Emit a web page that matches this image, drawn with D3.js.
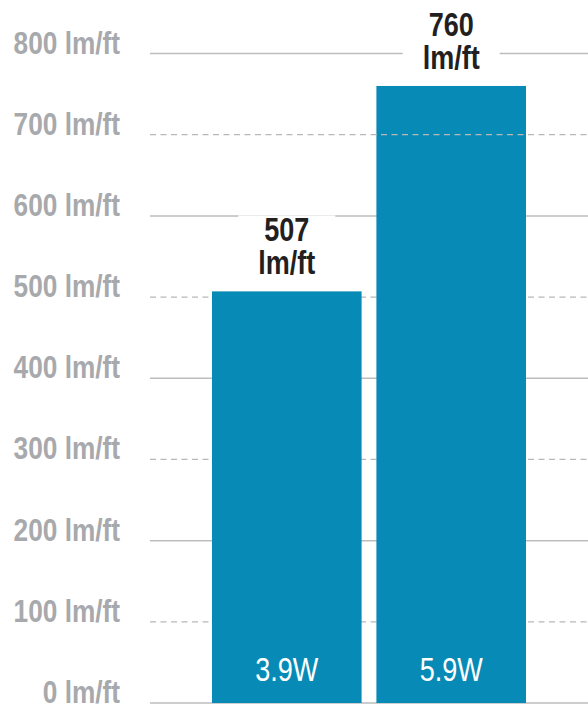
<!DOCTYPE html>
<html>
<head>
<meta charset="utf-8">
<script src="https://cdn.jsdelivr.net/npm/d3@7"></script>
<style>
  body { margin: 0; background: #fff; }
  text { font-family: "Liberation Sans Narrow", "Arial Narrow", "Liberation Sans", Arial, sans-serif; }
</style>
</head>
<body>
<div id="chart"></div>
<script>
// data
const categories = ["3.9W", "5.9W"];
const values = [507, 760];
const ticks = [0, 100, 200, 300, 400, 500, 600, 700, 800];
const unit = "lm/ft";

const width = 588, height = 706;
const narrow = 0.82; // no narrow font installed, squeeze the regular one

const svg = d3
  .select("#chart")
  .append("svg")
  .attr("width", width)
  .attr("height", height);

const y = d3.scaleLinear().domain([0, 800]).range([703, 53.5]);
const x = d3.scaleBand().domain(categories).range([212, 526]).paddingInner(0.09).paddingOuter(0);

function gridLines(g, data, dashed) {
  g.selectAll("line")
    .data(data)
    .join("line")
    .attr("x1", 150)
    .attr("x2", width)
    .attr("y1", d => y(d))
    .attr("y2", d => y(d))
    .attr("stroke", dashed ? "#b8b8b8" : "#bdbdbd")
    .attr("stroke-width", dashed ? 1.3 : 1.5)
    .attr("stroke-dasharray", dashed ? "6,4.5" : null);
}

// gridlines: solid every 200, dashed between
gridLines(svg.append("g"), ticks.filter(d => d % 200 === 0), false);
gridLines(svg.append("g"), ticks.filter(d => d % 200 !== 0 && d !== 700), true);

// y labels
svg
  .append("g")
  .selectAll("text")
  .data(ticks)
  .join("text")
  .attr("transform", d => `translate(120,${y(d)}) scale(${narrow},1)`)
  .attr("text-anchor", "end")
  .attr("font-size", 32)
  .attr("font-weight", "bold")
  .attr("fill", "#a7a9ac")
  .text(d => `${d} ${unit}`);

// bars
svg
  .append("g")
  .selectAll("rect")
  .data(values)
  .join("rect")
  .attr("x", (d, i) => x(categories[i]))
  .attr("y", d => y(d))
  .attr("width", x.bandwidth())
  .attr("height", d => y(0) - y(d))
  .attr("fill", "#078bb6");

// the 700 dashed line sits on top of the bars
gridLines(svg.append("g"), ticks.filter(d => d === 700), true);

// watt labels inside bars
svg
  .append("g")
  .selectAll("text")
  .data(categories)
  .join("text")
  .attr("transform", d => `translate(${x(d) + x.bandwidth() / 2},${y(0) - 22}) scale(${narrow},1)`)
  .attr("text-anchor", "middle")
  .attr("font-size", 33)
  .attr("fill", "#fff")
  .text(d => d);

// value labels above bars with white backing
const lab = svg
  .append("g")
  .selectAll("g")
  .data(values)
  .join("g")
  .attr("transform", (d, i) => `translate(${x(categories[i]) + x.bandwidth() / 2},${y(d)})`);

lab
  .append("rect")
  .attr("x", -48.5)
  .attr("y", -76)
  .attr("width", 97)
  .attr("height", 64)
  .attr("fill", "#fff");

lab
  .append("text")
  .attr("transform", `translate(0,-50) scale(${narrow},1)`)
  .attr("text-anchor", "middle")
  .attr("font-size", 33)
  .attr("font-weight", "bold")
  .attr("fill", "#231f20")
  .text(d => d);

lab
  .append("text")
  .attr("transform", `translate(0,-17) scale(${narrow},1)`)
  .attr("text-anchor", "middle")
  .attr("font-size", 33)
  .attr("font-weight", "bold")
  .attr("fill", "#231f20")
  .text(unit);
</script>
</body>
</html>
